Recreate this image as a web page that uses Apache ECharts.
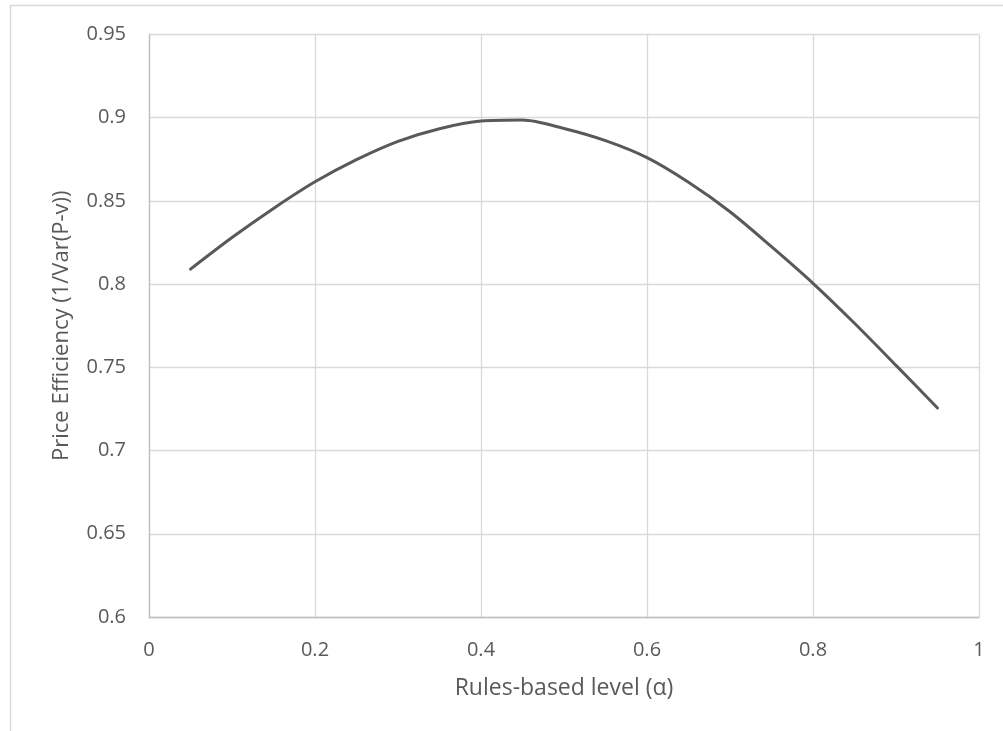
<!DOCTYPE html>
<html><head><meta charset="utf-8">
<script src="https://cdn.jsdelivr.net/npm/echarts@6/dist/echarts.min.js"></script>
<style>html,body{margin:0;padding:0;background:#fff}#c{width:1003px;height:731px}</style>
</head><body><div id="c"></div>
<script>
const alphaValues = [0.05,0.10,0.15,0.20,0.25,0.30,0.35,0.40,0.45,0.50,0.55,0.60,0.65,0.70,0.75,0.80,0.85,0.90,0.95];
const efficiency  = [0.809,0.828,0.8455,0.8615,0.8748,0.8858,0.8934,0.898,0.8986,0.8935,0.8862,0.876,0.8612,0.8435,0.8225,0.8005,0.7765,0.7512,0.7256];
const xTitle = 'Rules-based level (α)';
const yTitle = 'Price Efficiency (1/Var(P-v))';

const chart = echarts.init(document.getElementById('c'));
const font = '"Open Sans", "Noto Sans", sans-serif';
chart.setOption({
  animation:false,
  backgroundColor:'#fff',
  graphic:[{type:'rect',shape:{x:10.5,y:5.5,width:1100,height:900},style:{fill:'none',stroke:'#d9d9d9',lineWidth:1.5},silent:true}],
  grid:{left:149,top:34.5,width:830,height:582.5},
  xAxis:{type:'value',min:0,max:1,interval:0.2,
    name:xTitle,nameLocation:'middle',nameGap:60,
    nameTextStyle:{color:'#595959',fontSize:23,fontFamily:font},
    axisLine:{show:true,lineStyle:{color:'#bfbfbf',width:1.3}},axisTick:{show:false},
    axisLabel:{color:'#595959',fontSize:20,fontFamily:font,margin:23},
    splitLine:{show:true,lineStyle:{color:'#d9d9d9',width:1.3}}},
  yAxis:{type:'value',min:0.6,max:0.95,interval:0.05,
    name:yTitle,nameLocation:'middle',nameGap:76,
    nameTextStyle:{color:'#595959',fontSize:22,fontFamily:font},
    axisLine:{show:true,lineStyle:{color:'#bfbfbf',width:1.3}},axisTick:{show:false},
    axisLabel:{color:'#595959',fontSize:20,fontFamily:font,margin:23,
      formatter:v=>String(parseFloat(v.toFixed(2)))},
    splitLine:{show:true,lineStyle:{color:'#d9d9d9',width:1.3}}},
  series:[{type:'line',data:alphaValues.map((a,i)=>[a,efficiency[i]]),
    smooth:0.3,showSymbol:false,
    lineStyle:{color:'#595959',width:3,cap:'round'}}]
});
</script></body></html>
